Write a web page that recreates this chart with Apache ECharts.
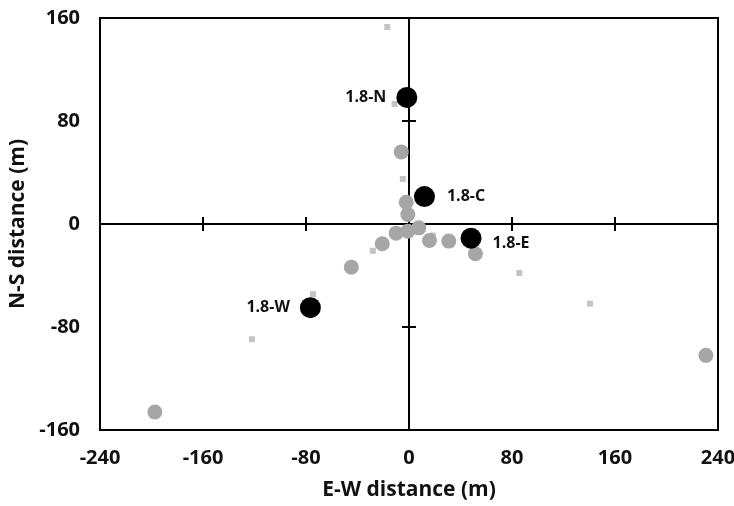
<!DOCTYPE html>
<html>
<head>
<meta charset="utf-8">
<script src="https://cdn.jsdelivr.net/npm/echarts@6/dist/echarts.min.js"></script>
<style>
  html, body { margin: 0; padding: 0; background: #fff; }
  #chart { width: 734px; height: 506px; }
</style>
</head>
<body>
<div id="chart"></div>
<script>
// Axis ranges (metres)
const xTicks = [-240, -160, -80, 0, 80, 160, 240];
const yTicks = [-160, -80, 0, 80, 160];

// Small square markers
const squareX = [-16.9, -11.2, -4.8, 18.5, -28.1, -74.6, -122.0, 85.7, 140.6];
const squareY = [153.0, 93.2, 35.0, -8.9, -20.8, -54.5, -89.5, -38.1, -61.9];

// Grey circle markers
const circleX = [-6.0, -2.2, -0.9, 7.6, -0.9, -10.0, -20.8, -44.8, -197.4, 15.9, 30.9, 51.6, 230.6];
const circleY = [56.0, 16.9, 7.4, -3.0, -5.6, -7.1, -15.3, -33.5, -146.0, -12.8, -13.3, -23.1, -102.0];

// Labelled stations
const stationNames = ['1.8-N', '1.8-C', '1.8-E', '1.8-W'];
const stationX = [-1.7, 12.0, 48.2, -76.6];
const stationY = [98.3, 21.3, -11.0, -65.0];

const FONT = '"Open Sans", "Noto Sans", sans-serif';
const labelPlacement = {
  '1.8-N': { position: 'left', distance: 10 },
  '1.8-C': { position: 'right', distance: 12 },
  '1.8-E': { position: 'right', distance: 11, offset: [0, 5] },
  '1.8-W': { position: 'left', distance: 10 }
};

const zip = (xs, ys) => xs.map((x, i) => [x, ys[i]]);

const xMin = xTicks[0], xMax = xTicks[xTicks.length - 1], xStep = xTicks[1] - xTicks[0];
const yMin = yTicks[0], yMax = yTicks[yTicks.length - 1], yStep = yTicks[1] - yTicks[0];

// Axis pair crossing at the origin: one copy ticks one way, the other ticks the opposite way
function crossX(inside) {
  return {
    type: 'value', min: xMin, max: xMax, interval: xStep, position: 'bottom',
    axisLine: { show: true, onZero: true, onZeroAxisIndex: 0, lineStyle: { color: '#000', width: 2 } },
    axisTick: { show: true, inside: inside, length: 7, lineStyle: { color: '#000', width: 2 } },
    axisLabel: { show: false }, splitLine: { show: false }
  };
}
function crossY(inside) {
  return {
    type: 'value', min: yMin, max: yMax, interval: yStep, position: 'left',
    axisLine: { show: true, onZero: true, onZeroAxisIndex: 0, lineStyle: { color: '#000', width: 2 } },
    axisTick: { show: true, inside: inside, length: 7, lineStyle: { color: '#000', width: 2 } },
    axisLabel: { show: false }, splitLine: { show: false }
  };
}

const chart = echarts.init(document.getElementById('chart'), null, { renderer: 'canvas' });

chart.setOption({
  animation: false,
  backgroundColor: '#fff',
  grid: {
    left: 100, right: 16, top: 18, bottom: 76,
    containLabel: false, outerBoundsMode: 'none',
    show: true, borderColor: '#000', borderWidth: 2, backgroundColor: 'transparent'
  },
  xAxis: [
    {
      type: 'value', min: xMin, max: xMax, interval: xStep, position: 'bottom',
      axisLine: { show: false, onZero: false }, axisTick: { show: false }, splitLine: { show: false },
      axisLabel: { margin: 18, color: '#111', fontFamily: FONT, fontWeight: 'bold', fontSize: 20 },
      name: 'E-W distance (m)', nameLocation: 'middle', nameGap: 50,
      nameTextStyle: { color: '#111', fontFamily: FONT, fontWeight: 'bold', fontSize: 21 }
    },
    crossX(false),
    crossX(true)
  ],
  yAxis: [
    {
      type: 'value', min: yMin, max: yMax, interval: yStep, position: 'left',
      axisLine: { show: false, onZero: false }, axisTick: { show: false }, splitLine: { show: false },
      axisLabel: { margin: 20, color: '#111', fontFamily: FONT, fontWeight: 'bold', fontSize: 20 },
      name: 'N-S distance (m)', nameLocation: 'middle', nameGap: 63, nameRotate: 90,
      nameTextStyle: { color: '#111', fontFamily: FONT, fontWeight: 'bold', fontSize: 21 }
    },
    crossY(false),
    crossY(true)
  ],
  series: [
    {
      type: 'scatter', xAxisIndex: 0, yAxisIndex: 0,
      symbol: 'rect', symbolSize: 6,
      itemStyle: { color: '#c4c4c4', opacity: 1 },
      data: zip(squareX, squareY)
    },
    {
      type: 'scatter', xAxisIndex: 0, yAxisIndex: 0,
      symbol: 'circle', symbolSize: 15,
      itemStyle: { color: '#a6a6a6', opacity: 1 },
      data: zip(circleX, circleY)
    },
    {
      type: 'scatter', xAxisIndex: 0, yAxisIndex: 0,
      symbol: 'circle', symbolSize: 21,
      itemStyle: { color: '#000', opacity: 1 },
      label: { show: true, color: '#111', fontFamily: FONT, fontWeight: 'bold', fontSize: 16, formatter: '{b}' },
      data: stationNames.map((name, i) => ({
        name: name,
        value: [stationX[i], stationY[i]],
        label: labelPlacement[name]
      }))
    }
  ]
});
</script>
</body>
</html>
